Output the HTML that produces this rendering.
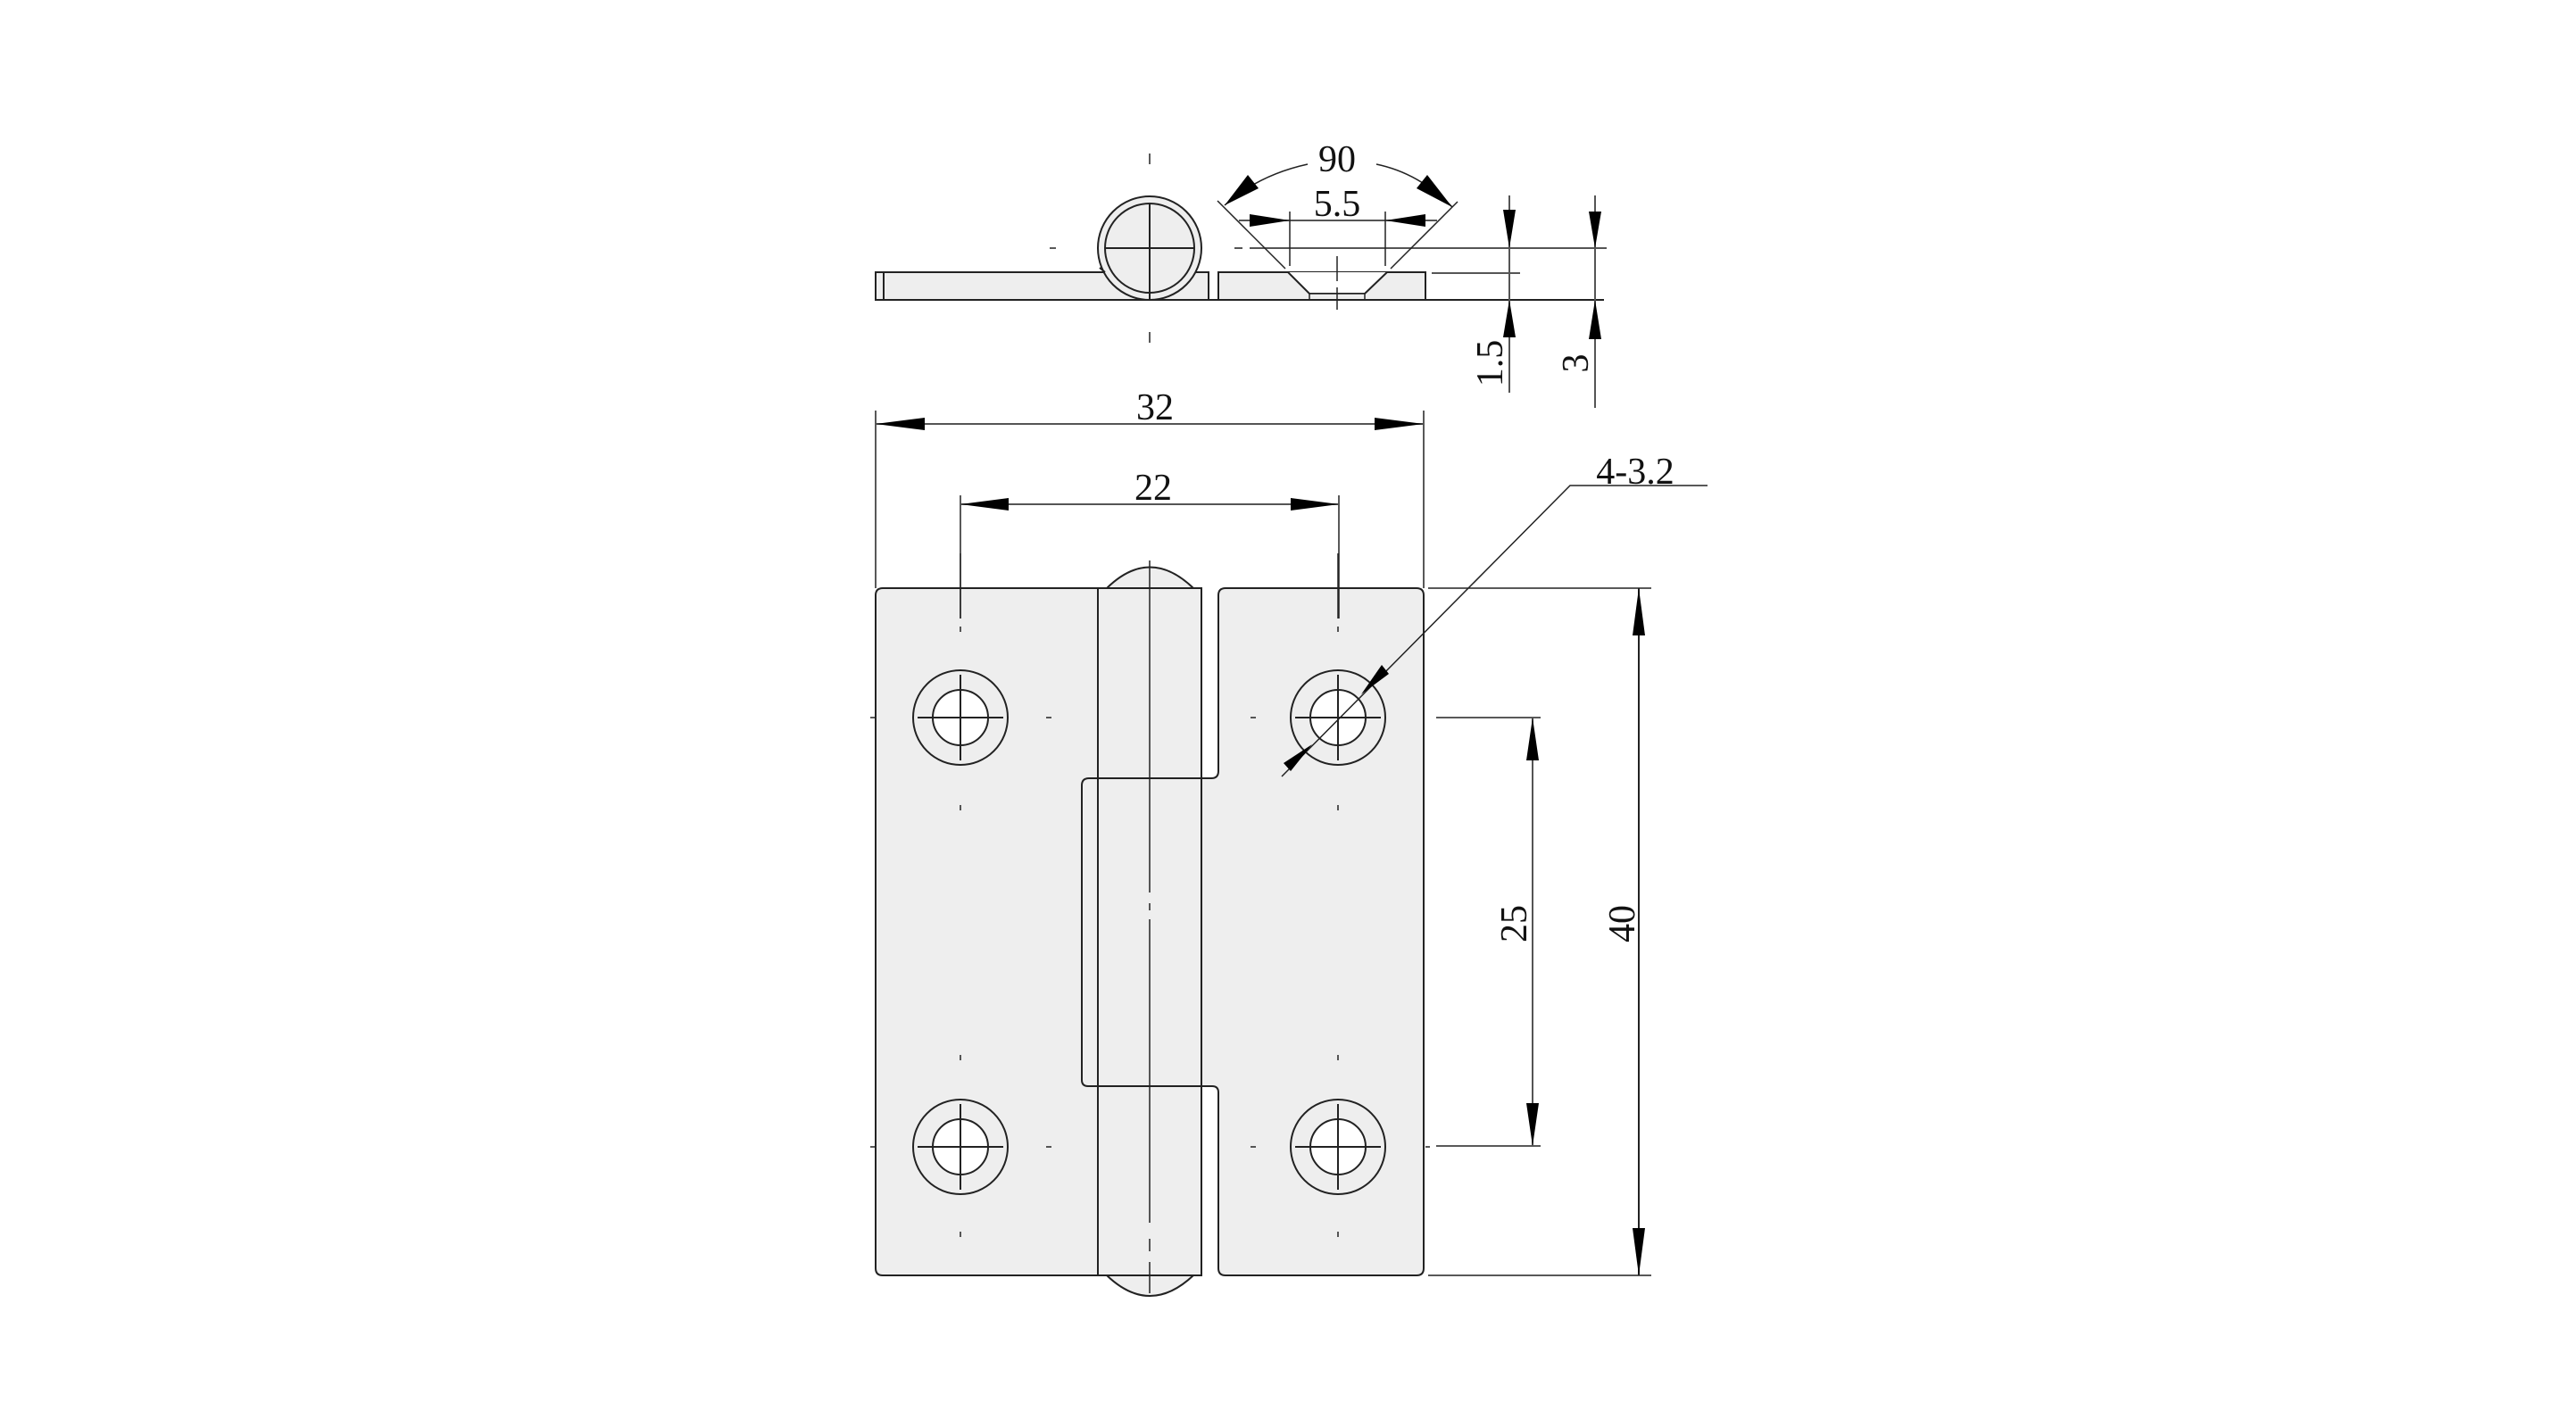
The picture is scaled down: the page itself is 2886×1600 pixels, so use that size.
<!DOCTYPE html>
<html><head><meta charset="utf-8"><style>
html,body{margin:0;padding:0;background:#fff;}
svg{display:block;}
text{font-family:"Liberation Serif",serif;font-size:42px;fill:#111;}
</style></head><body>
<svg width="2886" height="1600" viewBox="0 0 2886 1600" xmlns="http://www.w3.org/2000/svg">
<rect width="2886" height="1600" fill="#fff"/>
<g stroke="#222" stroke-width="2" fill="none">
<rect x="981" y="305" width="373" height="31" fill="#eeeeee"/>
<path d="M1365 305 H1597 V336 H1365 Z" fill="#eeeeee"/>
<line x1="990" y1="305" x2="990" y2="336"/>
<line x1="1354" y1="305" x2="1354" y2="336"/>
<path d="M1443 305 L1467 329 L1467 336 L1529 336 L1529 329 L1554 305 Z" fill="#fff" stroke="none"/>
<path d="M1443 305 L1467 329 H1529 L1554 305" fill="none"/>
<rect x="1467" y="329" width="62" height="7" fill="#eeeeee" stroke-width="1.5"/>
<circle cx="1288" cy="278" r="58" fill="#eeeeee"/>
<circle cx="1288" cy="278" r="50" fill="#eeeeee"/>
<line x1="1288" y1="228" x2="1288" y2="336"/>
<line x1="1238" y1="278" x2="1338" y2="278"/>
<line x1="1232" y1="300" x2="1238" y2="305"/>
<line x1="981" y1="336" x2="1797" y2="336"/>
<line x1="1288" y1="172" x2="1288" y2="184" stroke-width="1.5"/>
<line x1="1288" y1="372" x2="1288" y2="384" stroke-width="1.5"/>
<line x1="1176" y1="278" x2="1183" y2="278" stroke-width="1.5"/>
<line x1="1383" y1="278" x2="1392" y2="278" stroke="#555"/>
<line x1="1400" y1="278" x2="1800" y2="278" stroke="#555"/>
<line x1="1498" y1="287" x2="1498" y2="315" stroke-width="1.5"/>
<line x1="1498" y1="322" x2="1498" y2="347" stroke-width="1.5"/>
<line x1="1604" y1="306" x2="1703" y2="306" stroke="#555"/>
<line x1="1364" y1="225" x2="1440" y2="301" stroke-width="1.5"/>
<line x1="1633" y1="226" x2="1558" y2="301" stroke-width="1.5"/>
<path d="M1372 230 Q1410 196 1465 184" stroke-width="1.5"/>
<path d="M1542 184 Q1590 194 1627 232" stroke-width="1.5"/>
<line x1="1388" y1="247" x2="1610" y2="247" stroke="#555"/>
<line x1="1445" y1="237" x2="1445" y2="298" stroke-width="1.5"/>
<line x1="1552" y1="237" x2="1552" y2="298" stroke-width="1.5"/>
<line x1="1691" y1="219" x2="1691" y2="440" stroke="#555"/>
<line x1="1787" y1="219" x2="1787" y2="457" stroke="#555"/>

<path d="M1240 659 Q1288 612 1337 659 Z" fill="#eeeeee"/>
<path d="M1240 1429 Q1288 1475 1337 1429 Z" fill="#eeeeee"/>
<path d="M981 667 Q981 659 989 659 H1230 V1429 H989 Q981 1429 981 1421 Z" fill="#eeeeee"/>
<path d="M1373 659 H1587 Q1595 659 1595 667 V1421 Q1595 1429 1587 1429 H1373 Q1365 1429 1365 1421 V1224 Q1365 1217 1358 1217 H1219 Q1212 1217 1212 1210 V880 Q1212 872 1220 872 H1357 Q1365 872 1365 864 V667 Q1365 659 1373 659 Z" fill="#eeeeee"/>
<rect x="1230" y="659" width="116" height="770" fill="#eeeeee"/>
<path d="M1230 1217 H1346" />
<path d="M1230 872 H1346" />
<line x1="1288" y1="628" x2="1288" y2="1000" stroke-width="1.5"/>
<line x1="1288" y1="1012" x2="1288" y2="1020" stroke-width="1.5"/>
<line x1="1288" y1="1030" x2="1288" y2="1370" stroke-width="1.5"/>
<line x1="1288" y1="1388" x2="1288" y2="1402" stroke-width="1.5"/>
<line x1="1288" y1="1414" x2="1288" y2="1449" stroke-width="1.5"/>

<circle cx="1076" cy="804" r="53"/><circle cx="1076" cy="804" r="31" fill="#fff"/>
<circle cx="1499" cy="804" r="53"/><circle cx="1499" cy="804" r="31" fill="#fff"/>
<circle cx="1076" cy="1285" r="53"/><circle cx="1076" cy="1285" r="31" fill="#fff"/>
<circle cx="1499" cy="1285" r="53"/><circle cx="1499" cy="1285" r="31" fill="#fff"/>
<path d="M1028 804 H1124 M1076 756 V852 M1451 804 H1547 M1499 756 V852 M1028 1285 H1124 M1076 1237 V1333 M1451 1285 H1547 M1499 1237 V1333"/>
<g stroke-width="1.5">
<path d="M1076 620 V693 M1076 702 V708 M1076 902 V908 M1076 1182 V1188 M1076 1380 V1386"/>
<path d="M1499 620 V693 M1499 702 V708 M1499 902 V908 M1499 1182 V1188 M1499 1380 V1386"/>
<path d="M975 804 H981 M1172 804 H1178 M1401 804 H1407 M975 1285 H981 M1172 1285 H1178 M1401 1285 H1407 M1597 1285 H1602"/>
</g>
<line x1="981" y1="460" x2="981" y2="659" stroke-width="1.5"/>
<line x1="1595" y1="460" x2="1595" y2="659" stroke-width="1.5"/>
<line x1="981" y1="475" x2="1595" y2="475" stroke="#555"/>
<line x1="1076" y1="555" x2="1076" y2="693" stroke-width="1.5"/>
<line x1="1500" y1="555" x2="1500" y2="693" stroke-width="1.5"/>
<line x1="1076" y1="565" x2="1500" y2="565" stroke="#555"/>
<line x1="1609" y1="804" x2="1726" y2="804" stroke-width="1.5"/>
<line x1="1609" y1="1284" x2="1726" y2="1284" stroke-width="1.5"/>
<line x1="1717" y1="804" x2="1717" y2="1284" stroke="#555"/>
<line x1="1600" y1="659" x2="1850" y2="659" stroke-width="1.5"/>
<line x1="1600" y1="1429" x2="1850" y2="1429" stroke-width="1.5"/>
<line x1="1836" y1="659" x2="1836" y2="1429"/>
<polyline points="1436,870 1759,544 1913,544" stroke-width="1.5"/>
</g>

<g fill="#000" stroke="none">
<polygon points="1372,230 1398,196 1410,211"/>
<polygon points="1627,232 1587,211 1599,196"/>
<polygon points="1445,247 1400,240 1400,254"/>
<polygon points="1552,247 1597,240 1597,254"/>
<polygon points="1691,278 1684,235 1698,235"/>
<polygon points="1691,336 1684,378 1698,378"/>
<polygon points="1787,278 1780,237 1794,237"/>
<polygon points="1787,336 1780,380 1794,380"/>
<polygon points="981,475 1036,468 1036,482"/>
<polygon points="1595,475 1540,468 1540,482"/>
<polygon points="1076,565 1130,558 1130,572"/>
<polygon points="1500,565 1446,558 1446,572"/>
<polygon points="1717,804 1710,852 1724,852"/>
<polygon points="1717,1284 1710,1236 1724,1236"/>
<polygon points="1836,659 1829,712 1843,712"/>
<polygon points="1836,1429 1829,1376 1843,1376"/>
<polygon points="1525,778 1548,745 1556,755"/>
<polygon points="1470,834 1446,864 1438,855"/>
</g>

<text x="1498" y="192" text-anchor="middle">90</text>
<text x="1498" y="242" text-anchor="middle">5.5</text>
<text transform="translate(1683,407) rotate(-90)" text-anchor="middle">1.5</text>
<text transform="translate(1779,407) rotate(-90)" text-anchor="middle">3</text>
<text x="1294" y="470" text-anchor="middle">32</text>
<text x="1292" y="560" text-anchor="middle">22</text>
<text x="1832" y="542" text-anchor="middle">4-3.2</text>
<text transform="translate(1710,1035) rotate(-90)" text-anchor="middle">25</text>
<text transform="translate(1831,1035) rotate(-90)" text-anchor="middle">40</text>
</svg>
</body></html>
